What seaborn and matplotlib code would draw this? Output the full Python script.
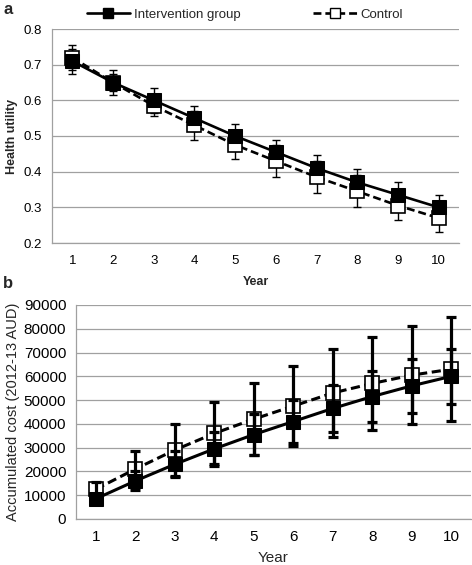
import matplotlib
matplotlib.use("Agg")
import matplotlib.pyplot as plt
import seaborn as sns
import numpy as np
import pandas as pd
from matplotlib.lines import Line2D

sns.set_theme(style="white")
plt.rcParams['font.family'] = ['Liberation Sans', 'DejaVu Sans']

years = [1, 2, 3, 4, 5, 6, 7, 8, 9, 10]
series_names = ["Intervention group", "Control"]

util_int = [0.71, 0.65, 0.60, 0.55, 0.50, 0.455, 0.41, 0.37, 0.335, 0.30]
util_int_err = [0.035, 0.035, 0.035, 0.035, 0.035, 0.035, 0.037, 0.038, 0.035, 0.035]
util_ctl = [0.72, 0.65, 0.585, 0.53, 0.475, 0.43, 0.385, 0.345, 0.305, 0.27]
util_ctl_err = [0.035, 0.025, 0.03, 0.04, 0.04, 0.045, 0.045, 0.045, 0.04, 0.038]

cost_int = [8500, 16000, 23000, 29500, 35500, 41000, 46500, 51500, 56000, 60000]
cost_int_err = [2000, 4000, 5500, 7000, 8500, 9000, 9750, 10750, 11250, 11500]
cost_ctl = [12500, 21000, 29000, 36000, 42000, 47500, 53000, 57000, 60500, 63000]
cost_ctl_err = [3000, 7500, 11000, 13000, 15000, 17000, 18500, 19500, 20750, 21750]

fig = plt.figure(figsize=(4.72, 5.65), dpi=100)
W, H = 472, 565
ax1 = fig.add_axes([52 / W, 1 - 243 / H, (459 - 52) / W, (243 - 29) / H])
ax2 = fig.add_axes([76 / W, 1 - 519 / H, (471 - 76) / W, (519 - 305) / H])

grid_col = "#a0a0a0"


def draw(ax, yi, ei, yc, ec, ms, lw, elw, cap, ez, tfs):
    df = pd.DataFrame({
        "Year": years * 2,
        "Value": yi + yc,
        "Group": [series_names[0]] * 10 + [series_names[1]] * 10,
    })
    ax.errorbar(years, yc, yerr=ec, fmt="none", ecolor="black",
                elinewidth=elw, capsize=cap, capthick=elw, zorder=ez)
    ax.errorbar(years, yi, yerr=ei, fmt="none", ecolor="black",
                elinewidth=elw, capsize=cap, capthick=elw, zorder=ez)
    sns.lineplot(data=df[df.Group == series_names[1]], x="Year", y="Value",
                 ax=ax, color="black", lw=lw, linestyle=(0, (3, 1.5)),
                 marker="s", markersize=ms, markerfacecolor="white",
                 markeredgecolor="black", markeredgewidth=1.2, zorder=3,
                 legend=False)
    sns.lineplot(data=df[df.Group == series_names[0]], x="Year", y="Value",
                 ax=ax, color="black", lw=lw, marker="s", markersize=ms,
                 markerfacecolor="black", markeredgecolor="black",
                 zorder=4, legend=False)
    ax.set_xlim(0.5, 10.5)
    ax.set_xticks(years)
    ax.set_xticks(np.arange(0.5, 11, 1), minor=True)
    ax.tick_params(axis="x", which="major", length=0, labelsize=tfs, pad=9,
                   colors="black")
    ax.tick_params(axis="x", which="minor", length=4, width=0.8,
                   color=grid_col, direction="out")
    ax.tick_params(axis="y", which="major", length=4, width=0.8,
                   labelsize=tfs, colors="black", pad=3)
    ax.tick_params(axis="y", which="major", color=grid_col)
    ax.yaxis.grid(True, color=grid_col, lw=0.9)
    ax.set_axisbelow(True)
    for s in ["top", "right"]:
        ax.spines[s].set_visible(False)
    for s in ["left", "bottom"]:
        ax.spines[s].set_color(grid_col)
        ax.spines[s].set_linewidth(0.9)


draw(ax1, util_int, util_int_err, util_ctl, util_ctl_err, 10, 1.9, 1.0, 3, 2, 9.5)
ax1.set_ylim(0.2, 0.8)
ax1.set_yticks([0.2, 0.3, 0.4, 0.5, 0.6, 0.7, 0.8])
ax1.set_yticklabels(["0.2", "0.3", "0.4", "0.5", "0.6", "0.7", "0.8"])
ax1.set_xlabel("Year", fontsize=9, fontweight="bold", labelpad=6)
ax1.set_ylabel("Health utility", fontsize=9, fontweight="bold", labelpad=4)

draw(ax2, cost_int, cost_int_err, cost_ctl, cost_ctl_err, 10, 2.2, 2.3, 3.5, 5, 11)
ax2.set_ylim(0, 90000)
ax2.set_yticks(np.arange(0, 90001, 10000))
ax2.set_yticklabels([str(v) for v in range(0, 90001, 10000)])
ax2.tick_params(axis="x", which="major", pad=8)
ax2.set_xlabel("Year", fontsize=11, labelpad=5)
ax2.set_ylabel("Accumulated cost (2012-13 AUD)", fontsize=10.5, labelpad=3)

fig.text(3 / W, 1 - 9 / H, "a", fontsize=12, fontweight="bold", va="center")
fig.text(3 / W, 1 - 284 / H, "b", fontsize=12, fontweight="bold", va="center")

handles = [
    Line2D([], [], color="black", lw=1.9, marker="s", markersize=7,
           markerfacecolor="black"),
    Line2D([], [], color="black", lw=1.9, linestyle=(0, (3, 1.5)), marker="s",
           markersize=7, markerfacecolor="white", markeredgecolor="black"),
]
fig.legend(handles, series_names, loc="center", bbox_to_anchor=(245 / W, 1 - 15 / H),
           ncol=2, frameon=False, fontsize=9.5, handlelength=3.3,
           columnspacing=5.5, handletextpad=0.3)

fig.savefig("out.png", dpi=100)
